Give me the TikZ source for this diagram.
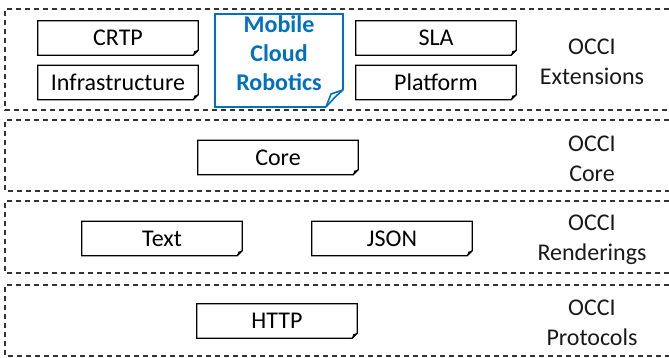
\documentclass[tikz,border=0pt]{standalone}
\usepackage{fontspec}
\setmainfont{Carlito}
\definecolor{mcrblue}{RGB}{0,112,192}
\tikzset{
  layerline/.style={draw=black!80, line width=1.1pt, dash pattern=on 5pt off 4pt},
  docbox/.style={rectangle, inner sep=0pt, minimum width=160pt, minimum height=34pt,
    font=\fontsize{24}{29}\selectfont, text=black},
  docline/.style={draw=black, line width=1.3pt, line join=miter},
  occilabel/.style={align=center, inner sep=0pt, font=\fontsize{24}{29.5}\selectfont, text=black!90},
  mcrline/.style={draw=mcrblue, line width=2pt, line join=miter},
  mcrtext/.style={align=center, inner sep=0pt, font=\bfseries\fontsize{24}{29}\selectfont, text=mcrblue}
}
\newcommand{\docoutline}[1]{%
  \draw[docline] (#1.north west) -- (#1.north east) -- ([yshift=5pt]#1.south east)
    -- ([xshift=-5pt]#1.south east) -- (#1.south west) -- cycle;
  \fill[black] ([yshift=5pt]#1.south east) -- ([xshift=-5pt]#1.south east)
    -- ([xshift=-4pt,yshift=4pt]#1.south east) -- cycle;
}
\begin{document}
\begin{tikzpicture}[x=1pt, y=-1pt]
\useasboundingbox (0,0) rectangle (669,358);
% layers
\draw[layerline] (669,9) -- (5,9) -- (5,110) -- (669,110);
\draw[layerline] (669,120) -- (5,120) -- (5,191) -- (669,191);
\draw[layerline] (669,201) -- (5,201) -- (5,273) -- (669,273);
\draw[layerline] (669,285) -- (5,285) -- (5,356) -- (669,356);
% extension boxes
\node[docbox] (crtp) at (118,38) {CRTP};
\docoutline{crtp}
\node[docbox] (infra) at (118,82.5) {Infrastructure};
\docoutline{infra}
\node[docbox] (sla) at (436,38) {SLA};
\docoutline{sla}
\node[docbox] (platform) at (436,82.5) {Platform};
\docoutline{platform}
% mobile cloud robotics
\coordinate (mcrnw) at (215,14);
\coordinate (mcrne) at (343,14);
\coordinate (mcrsw) at (215,107);
\coordinate (mcrfa) at (343,90);
\coordinate (mcrfb) at (326,107);
\draw[mcrline] (mcrfa) -- (mcrne) -- (mcrnw) -- (mcrsw) -- (mcrfb);
\draw[mcrline, line width=1.6pt] (mcrfa) .. controls (336,96) .. (mcrfb);
\draw[mcrline, line width=1.6pt] (mcrfa) -- (331,94) -- (mcrfb);
\node[mcrtext] (mcr) at (279,53) {Mobile\\Cloud\\Robotics};
% core
\node[docbox] (core) at (278,157.5) {Core};
\docoutline{core}
% renderings
\node[docbox] (text) at (162,238.5) {Text};
\docoutline{text}
\node[docbox] (json) at (392,238.5) {JSON};
\docoutline{json}
% protocols
\node[docbox] (http) at (277,321) {HTTP};
\docoutline{http}
% labels
\node[occilabel] (lext) at (592,62) {OCCI\\Extensions};
\node[occilabel] (lcore) at (592,159) {OCCI\\Core};
\node[occilabel] (lrend) at (592,240) {OCCI\\Renderings};
\node[occilabel] (lprot) at (592,323) {OCCI\\Protocols};
\end{tikzpicture}
\end{document}
